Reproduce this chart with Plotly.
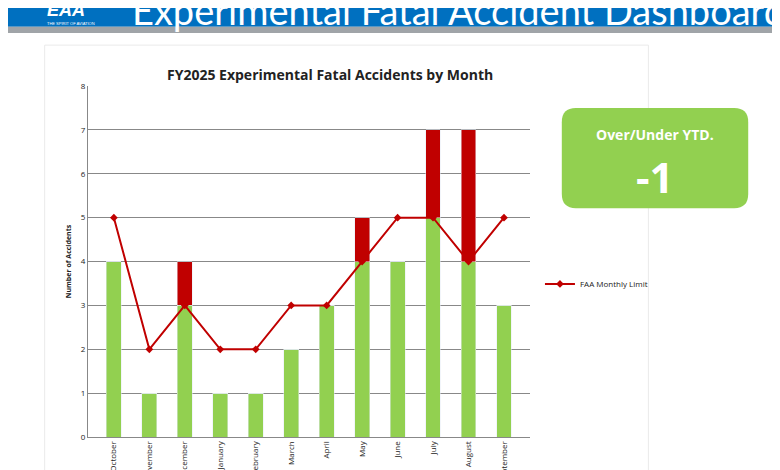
import plotly.graph_objects as go

months = ["October", "November", "December", "January", "February", "March",
          "April", "May", "June", "July", "August", "September"]
under = [4, 1, 3, 1, 1, 2, 3, 4, 4, 5, 4, 3]
over = [0, 0, 1, 0, 0, 0, 0, 1, 0, 2, 3, 0]
limit = [5, 2, 3, 2, 2, 3, 3, 4, 5, 5, 4, 5]

green = "#92D050"
red = "#C00000"

fig = go.Figure()
fig.add_trace(go.Bar(x=months, y=under, marker_color=green, width=0.42, showlegend=False))
fig.add_trace(go.Bar(x=months, y=over, marker_color=red, width=0.42, showlegend=False))
fig.add_trace(go.Scatter(x=months, y=limit, mode="lines+markers", name="FAA Monthly Limit",
                         line=dict(color=red, width=2),
                         marker=dict(symbol="diamond", size=6, color=red)))

# rounded green box, in paper coords
x0, x1, y0, y1, r, ry = 0.710, 0.949, 0.574, 0.787, 0.018, 0.03
box = (f"M {x0+r},{y0} L {x1-r},{y0} Q {x1},{y0} {x1},{y0+ry} L {x1},{y1-ry} "
       f"Q {x1},{y1} {x1-r},{y1} L {x0+r},{y1} Q {x0},{y1} {x0},{y1-ry} "
       f"L {x0},{y0+ry} Q {x0},{y0} {x0+r},{y0} Z")

shapes = [
    dict(type="rect", xref="paper", yref="paper", x0=-0.02, x1=1.02, y0=0.960, y1=1.03,
         fillcolor="#0070C0", line_width=0, layer="below"),
    dict(type="rect", xref="paper", yref="paper", x0=-0.02, x1=1.02, y0=0.947, y1=0.960,
         fillcolor="#A0A4A8", line_width=0, layer="below"),
    dict(type="rect", xref="paper", yref="paper", x0=0.047, x1=0.821, y0=-0.05, y1=0.921,
         fillcolor="white", line=dict(color="#EAEAEA", width=1), layer="below"),
    dict(type="path", xref="paper", yref="paper", path=box,
         fillcolor=green, line_width=0, layer="below"),
]

annotations = [
    dict(text="Experimental Fatal Accident Dashboard", x=0.156, y=0.995, xref="paper", yref="paper",
         xanchor="left", yanchor="middle", showarrow=False,
         font=dict(family="Lato", size=38, color="white")),
    dict(text="<b><i>EAA</i></b>", x=0.047, y=0.995, xref="paper", yref="paper",
         xanchor="left", yanchor="middle", showarrow=False,
         font=dict(family="Liberation Sans", size=18, color="white")),
    dict(text="THE SPIRIT OF AVIATION", x=0.047, y=0.968, xref="paper", yref="paper",
         xanchor="left", yanchor="middle", showarrow=False,
         font=dict(family="Liberation Sans", size=4, color="white")),
    dict(text="<b>FY2025 Experimental Fatal Accidents by Month</b>", x=0.413, y=0.883,
         xref="paper", yref="paper", xanchor="center", showarrow=False,
         font=dict(family="Open Sans", size=14, color="#222")),
    dict(text="<b>Over/Under YTD.</b>", x=0.829, y=0.755, xref="paper", yref="paper",
         xanchor="center", showarrow=False, font=dict(family="Open Sans", size=14, color="white")),
    dict(text="<b>-1</b>", x=0.829, y=0.642, xref="paper", yref="paper",
         xanchor="center", showarrow=False, font=dict(family="Open Sans", size=42, color="white")),
]

fig.update_layout(
    width=780, height=470, barmode="stack",
    margin=dict(l=0, r=0, t=0, b=0),
    paper_bgcolor="white", plot_bgcolor="white",
    shapes=shapes, annotations=annotations,
    xaxis=dict(domain=[0.1026, 0.669], tickangle=-90, showline=True, linecolor="#888",
               tickfont=dict(family="Open Sans", size=8, color="#222"), automargin=False),
    yaxis=dict(domain=[0.087, 0.834], range=[0, 8], dtick=1, showgrid=True,
               gridcolor="#888", showline=True, linecolor="#888",
               tickfont=dict(family="Open Sans", size=8, color="#222"),
               title=dict(text="<b>Number of Accidents</b>", standoff=8,
                          font=dict(family="Open Sans", size=7, color="#222")),
               automargin=False),
    legend=dict(x=0.682, y=0.413, xanchor="left", yanchor="middle",
                font=dict(family="Open Sans", size=8, color="#222"), bgcolor="rgba(0,0,0,0)"),
    bargap=0.5,
)

fig.write_html("out.html")
